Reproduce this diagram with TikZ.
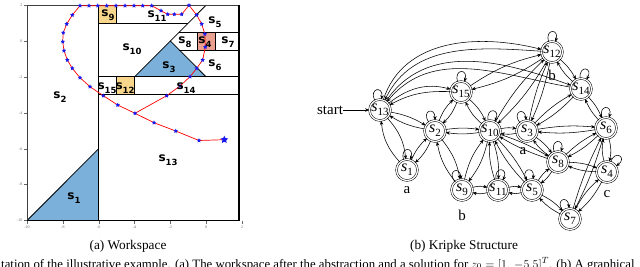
\documentclass[tikz,border=0pt]{standalone}
\usepackage{fontspec}
\setmainfont{Liberation Serif}
\newfontfamily\wsfont{DejaVu Sans}
\usetikzlibrary{arrows.meta,shapes.geometric}
\definecolor{wsblue}{RGB}{122,176,218}
\definecolor{wsorange}{RGB}{248,214,140}
\definecolor{wspink}{RGB}{233,160,143}
\definecolor{mkblue}{RGB}{25,25,235}
\newcommand{\sn}[1]{\textit{s}\kern0.2pt\raisebox{-0.5ex}{\fontsize{11}{11}\selectfont #1}}
\newcommand{\wn}[1]{s\raisebox{-0.55ex}{\fontsize{8.5}{8.5}\selectfont #1}}
\newcommand{\kpair}[3]{\draw[kedge] (#1) to[bend left=#3] (#2); \draw[kedge] (#2) to[bend left=#3] (#1);}
\newcommand{\kloop}[3]{\draw[kedge] (#1.#2) .. controls +(#2:14pt) and +(#3:14pt) .. (#1.#3);}
\begin{document}
\begin{tikzpicture}[x=1pt,y=-1pt,
  wsline/.style={black, line width=0.8pt},
  wslab/.style={font=\wsfont\bfseries\fontsize{12}{12}\selectfont, inner sep=0pt},
  tick/.style={font=\fontsize{4}{4}\selectfont, text=black!60, inner sep=0pt},
  traj/.style={red, line width=0.7pt},
  mk/.style={star, star points=5, star point ratio=2.0, fill=mkblue, draw=none, minimum size=4.6pt, inner sep=0pt},
  kst/.style={circle, draw=black, line width=0.5pt, double=white, double distance=1.3pt, minimum size=21pt, inner sep=0pt, font=\fontsize{16}{16}\selectfont},
  kedge/.style={-{Stealth[length=4.2pt,width=3.4pt]}, line width=0.55pt},
  klab/.style={font=\fontsize{15}{15}\selectfont, inner sep=0pt},
  captxt/.style={font=\fontsize{13.3}{14}\selectfont, inner sep=0pt}]
\useasboundingbox (0,0) rectangle (640,267);
\fill[white] (0,0) rectangle (640,267);

% ---------------- Workspace ----------------
\begin{scope}[shift={(206.2,41)}, x=17.92pt, y=17.95pt]
  \fill[wsblue] (-10,-10) -- (-6,-6) -- (-6,-10) -- cycle;
  \fill[wsblue] (-4,-2) -- (-2,0) -- (0,-2) -- cycle;
  \fill[wsorange] (-6,1) rectangle (-5,2);
  \fill[wsorange] (-5,-3) rectangle (-4,-2);
  \fill[wspink] (-0.5,-0.5) rectangle (0.5,0.5);
  \draw[wsline] (-10,-10) -- (-6,-6);
  \draw[wsline] (-6,2) -- (-6,-10);
  \draw[wsline] (-6,1) -- (-1,1);
  \draw[wsline] (-5,2) -- (-5,1);
  \draw[wsline] (-2,0) -- (0,2);
  \draw[wsline] (-4,-2) -- (-2,0) -- (0,-2);
  \draw[wsline] (-1.5,0.5) -- (1.83,0.5);
  \draw[wsline] (-1.5,-0.5) -- (1.83,-0.5);
  \draw[wsline] (-0.5,0.5) -- (-0.5,-0.5) (0.5,0.5) -- (0.5,-0.5);
  \draw[wsline] (-6,-2) -- (1.83,-2);
  \draw[wsline] (-6,-3) -- (1.83,-3);
  \draw[wsline] (-5,-2) -- (-5,-3) (-4,-2) -- (-4,-3);
  \draw[line width=0.7pt, black!75] (-10,-10) -- (-10,2) -- (1.83,2);
  \draw[line width=1.3pt] (-10,-10) -- (1.83,-10) -- (1.83,2);
  \foreach \v in {2,0,-2,-4,-6,-8,-10} {
    \draw[black!60, line width=0.3pt] (-10,\v) -- ++(-3pt,0);
    \node[tick, anchor=east] at ([xshift=-4.5pt]-10,\v) {\v};
  }
  \foreach \v in {-10,-8,-6,-4,-2,0,2} {
    \draw[black!60, line width=0.3pt] (\v,-10) -- ++(0,-3pt);
    \node[tick, anchor=north] at ([yshift=-5pt]\v,-10) {\v};
  }
\end{scope}

% trajectory (px coordinates)
\draw[traj] (224.3,139.7) -- (199,140.5) -- (175.7,131) -- (154,122.7) -- (135,113.3)
  -- (117.7,105) -- (103.3,95.7) -- (90,86.7) -- (80,77.7) -- (72.3,68.3) -- (67.3,60)
  -- (64,50.7) -- (62.7,41.7) -- (63.3,32.7) -- (66.7,24) -- (72.3,15) -- (80,5.7)
  -- (151.7,5.7) -- (161,10.7) -- (167.7,14.3) -- (181.7,14.3) -- (189,5.3)
  -- (196.7,15) -- (201.7,24) -- (204.8,34) -- (205.3,47) -- (202.7,60) -- (196.7,68.3)
  -- (190,76.7) -- (180,86) -- (166.7,95.7) -- (135,113.3);
\foreach \p in {(199,140.5),(175.7,131),(154,122.7),(135,113.3),(117.7,105),(103.3,95.7),
  (90,86.7),(80,77.7),(72.3,68.3),(67.3,60),(64,50.7),(62.7,41.7),(63.3,32.7),(66.7,24),
  (72.3,15),(80,5.7),(89,5.7),(97.7,5.7),(106.7,5.7),(116,5.7),(125,5.7),(134,5.7),
  (142.7,5.7),(151.7,5.7),(161,10.7),(167.7,14.3),(174.3,14.3),(181.7,14.3),(189,5.3),
  (196.7,15),(201.7,24),(204.8,34),(205.3,47),(202.7,60),(196.7,68.3),(190,76.7),(180,86),
  (166.7,95.7)}
  \node[mk] at \p {};
\node[mk, minimum size=8pt] (z0) at (224.3,139.7) {};

% region labels
\node[wslab] (l9)  at (108,15) {\wn{9}};
\node[wslab] (l11) at (157,16) {\wn{11}};
\node[wslab] (l5)  at (215,22) {\wn{5}};
\node[wslab] (l8)  at (185,42) {\wn{8}};
\node[wslab] (l4)  at (205,42) {\wn{4}};
\node[wslab] (l7)  at (228,42) {\wn{7}};
\node[wslab] (l10) at (132,49) {\wn{10}};
\node[wslab] (l3)  at (169,67) {\wn{3}};
\node[wslab] (l6)  at (215,65) {\wn{6}};
\node[wslab] (l15) at (107,88) {\wn{15}};
\node[wslab] (l12) at (125,88) {\wn{12}};
\node[wslab] (l14) at (186,88) {\wn{14}};
\node[wslab] (l2)  at (60,97) {\wn{2}};
\node[wslab] (l13) at (168,160) {\wn{13}};
\node[wslab] (l1)  at (74,198) {\wn{1}};

% ---------------- Kripke structure ----------------
\node[kst] (s13) at (380,110) {\sn{13}};
\node[kst] (s15) at (461,92) {\sn{15}};
\node[kst] (s12) at (552,52) {\sn{12}};
\node[kst] (s14) at (581,89) {\sn{14}};
\node[kst] (s6)  at (606,128) {\sn{6}};
\node[kst] (s2)  at (435,131) {\sn{2}};
\node[kst] (s10) at (490,131) {\sn{10}};
\node[kst] (s3)  at (527,131) {\sn{3}};
\node[kst] (s1)  at (407,170) {\sn{1}};
\node[kst] (s8)  at (558,162) {\sn{8}};
\node[kst] (s4)  at (607,172) {\sn{4}};
\node[kst] (s9)  at (462,190) {\sn{9}};
\node[kst] (s11) at (498,190) {\sn{11}};
\node[kst] (s5)  at (532,190) {\sn{5}};
\node[kst] (s7)  at (570,219) {\sn{7}};

\node[klab] (start) at (330,110) {start};
\draw[kedge] (start) -- (s13);

\node[klab] (la1) at (407,190) {a};
\node[klab] (lb9) at (462,215) {b};
\node[klab] (la3) at (523,151) {a};
\node[klab] (lc4) at (607,194) {c};
\node[klab] (lb12) at (552,75) {b};

% long arcs from s13
\draw[kedge] (s13) to[out=72,in=166] (s12);
\draw[kedge] (s12) to[out=176,in=64] (s13);
\draw[kedge] (s13) to[out=56,in=160] (s14);
\draw[kedge] (s14) to[out=170,in=50] (s13);
\draw[kedge] (s13) to[out=38,in=165] (s15);
\draw[kedge] (s15) to[out=178,in=28] (s13);

% pairs
\kpair{s13}{s1}{18}
\kpair{s13}{s2}{10}
\kpair{s1}{s2}{12}
\kpair{s2}{s15}{12}
\kpair{s2}{s10}{8}
\kpair{s2}{s9}{14}
\kpair{s15}{s10}{12}
\kpair{s15}{s12}{10}
\kpair{s10}{s3}{12}
\kpair{s10}{s9}{12}
\kpair{s10}{s11}{10}
\kpair{s10}{s5}{8}
\kpair{s10}{s8}{6}
\kpair{s10}{s12}{8}
\kpair{s3}{s6}{7}
\kpair{s3}{s8}{10}
\kpair{s3}{s14}{8}
\kpair{s3}{s12}{6}
\kpair{s6}{s14}{10}
\kpair{s6}{s8}{8}
\kpair{s6}{s4}{14}
\kpair{s6}{s7}{5}
\kpair{s4}{s8}{10}
\kpair{s4}{s7}{10}
\kpair{s5}{s11}{14}
\kpair{s5}{s7}{10}
\kpair{s5}{s8}{10}
\kpair{s11}{s9}{14}
\kpair{s12}{s14}{10}

% self loops
\kloop{s13}{118}{82}
\kloop{s15}{108}{72}
\kloop{s12}{108}{72}
\kloop{s14}{95}{60}
\kloop{s6}{110}{74}
\kloop{s2}{125}{90}
\kloop{s10}{100}{64}
\kloop{s3}{130}{95}
\kloop{s1}{108}{72}
\kloop{s9}{130}{95}
\kloop{s11}{100}{64}
\kloop{s5}{120}{84}
\kloop{s8}{110}{74}
\kloop{s4}{70}{34}
\kloop{s7}{130}{95}

% captions
\node[captxt] (capa) at (128,246) {(a) Workspace};
\node[captxt] (capb) at (464,246) {(b) Kripke Structure};
\node[captxt, font=\fontsize{12.8}{14}\selectfont, anchor=base west] (capc) at (1,268) {tation of the illustrative example. (a) The workspace after the abstraction and a solution for $z_0=[1,\,-5.5]^T$. (b) A graphical};
\end{tikzpicture}
\end{document}
